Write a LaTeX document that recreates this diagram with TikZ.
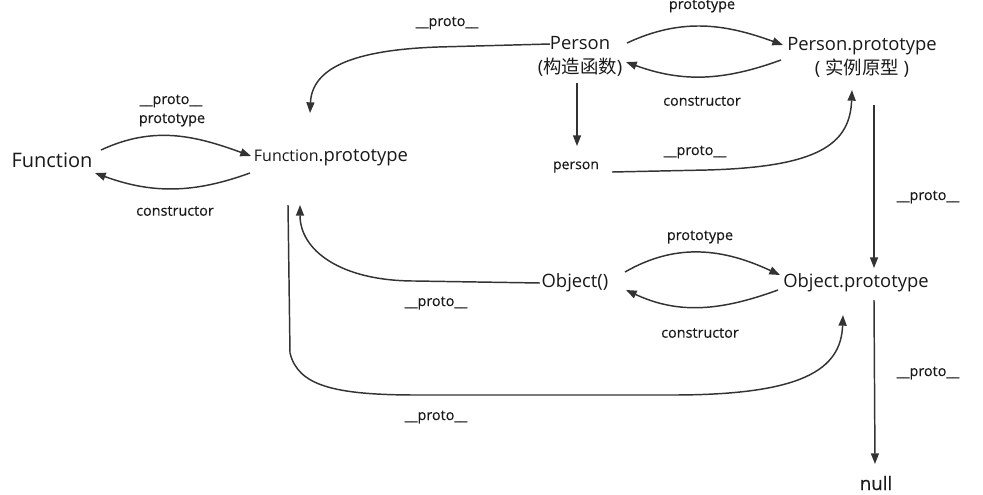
\documentclass[tikz,border=0pt]{standalone}
\usepackage{fontspec}
\setmainfont{Open Sans}
\newfontfamily\lblfont[FakeBold=0.3]{Open Sans}
\newfontfamily\cjk{Noto Sans CJK SC}
\usetikzlibrary{arrows.meta,calc}

\begin{document}
\begin{tikzpicture}[x=0.75pt,y=0.75pt]
\tikzstyle{every node}+=[inner sep=0pt, text=black!90]
\tikzstyle{obj}=[font=\fontsize{13.8}{18}\selectfont, align=center]
\tikzstyle{lbl}=[font=\lblfont\fontsize{10.8}{12}\selectfont]
\tikzstyle{link}=[draw=black!80, line width=1.1pt, -{Triangle[length=8pt,width=6pt]}]
\useasboundingbox (0,0) rectangle (983,-494);
% objects
\node [obj, font=\fontsize{15}{17}\selectfont] (fn) at (52,-160) {Function};
\node [obj] (fnp) at (331,-158) {{\fontsize{12}{13}\selectfont Function}.prototype};
\node [obj] (ps) at (580,-56) {Person\\({\cjk 构造函数})};
\node [obj] (psp) at (862,-57) {Person.prototype\\( {\cjk 实例原型} )};
\node [obj, font=\lblfont\fontsize{10.5}{12}\selectfont] (per) at (576,-167) {person};
\node [obj] (obj) at (575,-283) {Object()};
\node [obj] (objp) at (856,-283) {Object.prototype};
\node [obj, font=\lblfont\fontsize{14}{16}\selectfont] (nul) at (876,-483) {null};
% labels
\node [lbl] (l1a) at (171,-101) {\_\_proto\_\_};
\node [lbl] (l1b) at (172,-120) {prototype};
\node [lbl] (l2) at (175,-211) {constructor};
\node [lbl] (l3) at (447,-23) {\_\_proto\_\_};
\node [lbl] (l4) at (702,-6) {prototype};
\node [lbl] (l5) at (702,-101) {constructor};
\node [lbl] (l7) at (695,-152) {\_\_proto\_\_};
\node [lbl] (l8) at (928,-197) {\_\_proto\_\_};
\node [lbl] (l9) at (436,-303) {\_\_proto\_\_};
\node [lbl] (l10) at (700,-237) {prototype};
\node [lbl] (l11) at (700,-333) {constructor};
\node [lbl] (l12) at (436,-417) {\_\_proto\_\_};
\node [lbl] (l13) at (928,-373) {\_\_proto\_\_};
% Function <-> Function.prototype
\draw [link] ($(fn)+(49,10)$) to[out=25,in=160] ($(fnp)+(-80,2)$);
\draw [link] ($(fnp)+(-81,-15)$) to[out=200,in=-20] ($(fn)+(43,-13)$);
% Person
\draw [link] ($(ps)+(-30,12)$) -- ++(-112,-3) .. controls +(-85,-3) and +(2,45) .. ($(fnp)+(-21,45)$);
\draw [link] ($(ps)+(47,13)$) to[out=25,in=160] ($(psp)+(-79,12)$);
\draw [link] ($(psp)+(-81,-3)$) to[out=200,in=-20] ($(ps)+(46,-6)$);
\draw [link] ($(ps)+(-3,-27)$) -- ($(per)+(1,21)$);
\draw [link] ($(per)+(36,-5)$) -- ++(95,2) .. controls +(110,3) and +(-2,-55) .. ($(psp)+(-10,-33)$);
\draw [link] ($(psp)+(12,-48)$) -- ($(objp)+(18,15)$);
% Object
\draw [link] ($(obj)+(-35,0)$) -- ++(-125,2) .. controls +(-75,0) and +(0,-45) .. ($(fnp)+(-31,-47)$);
\draw [link] ($(obj)+(50,11)$) to[out=30,in=155] ($(objp)+(-76,8)$);
\draw [link] ($(objp)+(-78,-7)$) to[out=200,in=-25] ($(obj)+(51,-7)$);
\draw [link] ($(fnp)+(-43,-47)$) -- ++(2,-148) .. controls +(8,-32) and +(-85,0) .. ++(127,-42) -- ++(255,0) .. controls +(130,0) and +(-2,-55) .. ($(objp)+(-13,-32)$);
\draw [link] ($(objp)+(18,-17)$) -- ($(nul)+(-1,19)$);
\end{tikzpicture}
\end{document}
